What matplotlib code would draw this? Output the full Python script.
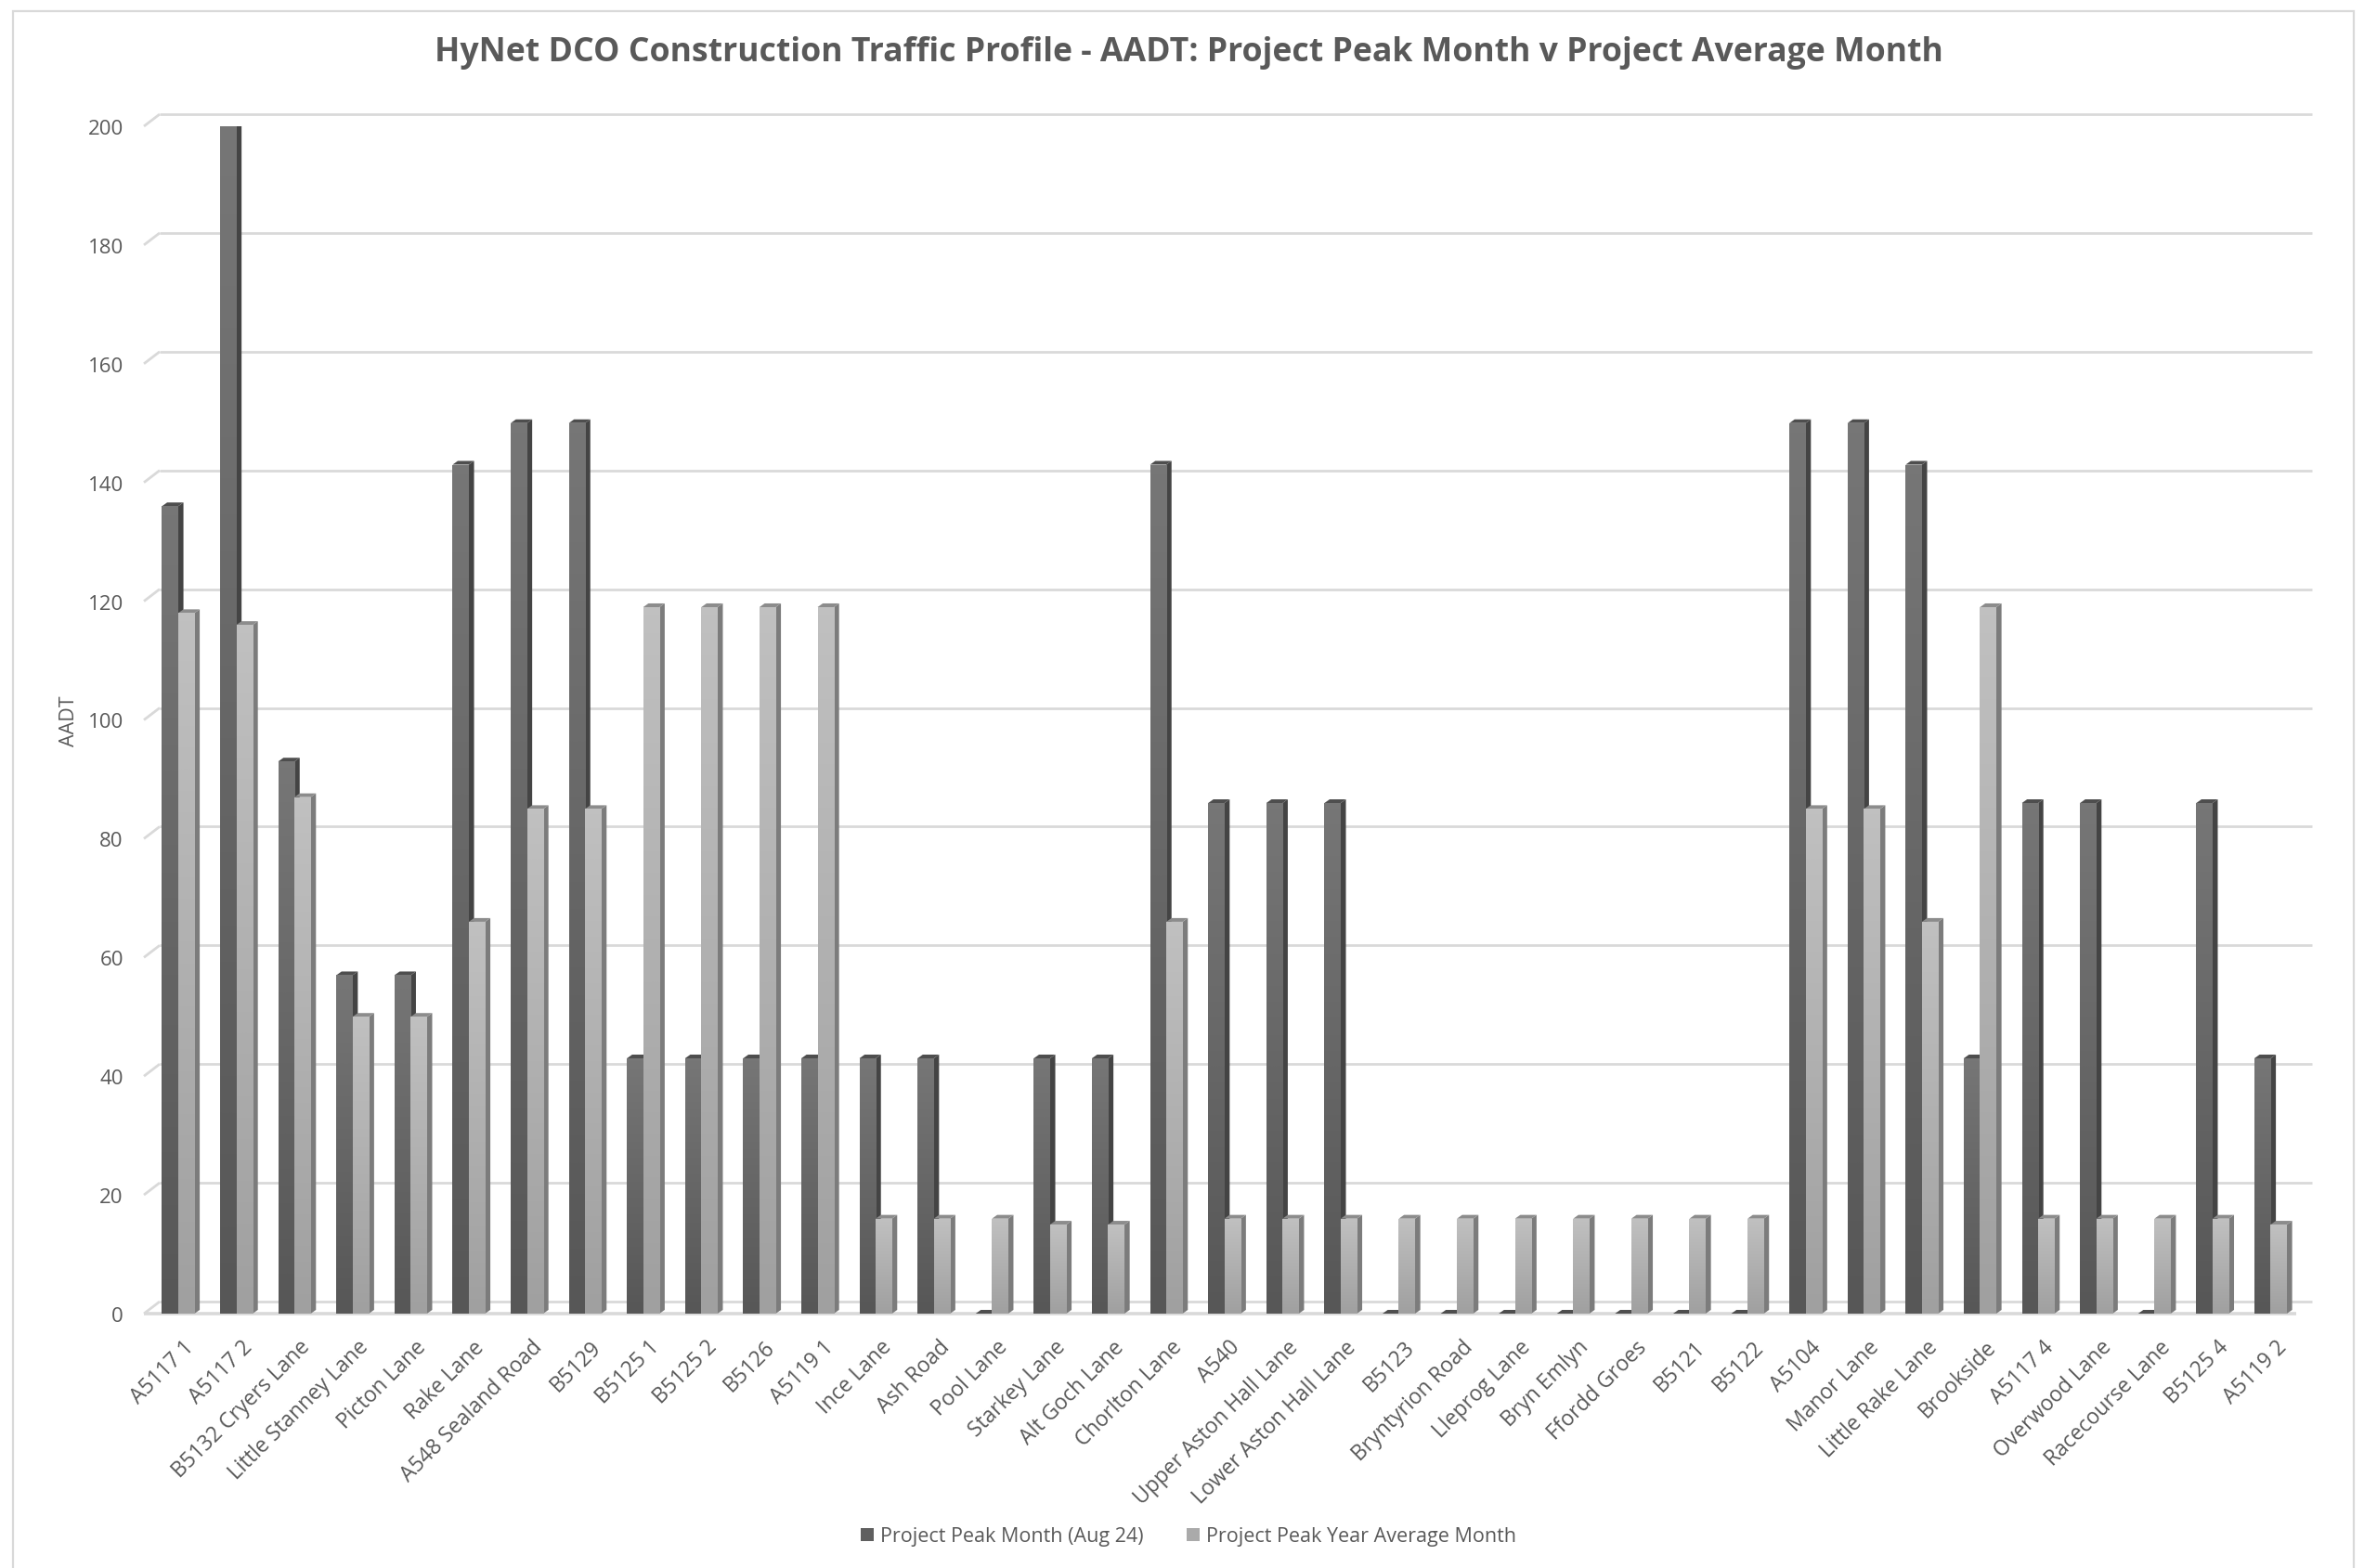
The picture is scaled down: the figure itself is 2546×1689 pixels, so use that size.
import numpy as np
import matplotlib
matplotlib.use("Agg")
import matplotlib.pyplot as plt
from matplotlib.patches import Rectangle, Polygon, Patch
from matplotlib.colors import LinearSegmentedColormap

plt.rcParams["font.family"] = ["Open Sans", "DejaVu Sans"]

# data
roads = ["A5117 1", "A5117 2", "B5132 Cryers Lane", "Little Stanney Lane", "Picton Lane",
         "Rake Lane", "A548 Sealand Road", "B5129", "B5125 1", "B5125 2", "B5126",
         "A5119 1", "Ince Lane", "Ash Road", "Pool Lane", "Starkey Lane", "Alt Goch Lane",
         "Chorlton Lane", "A540", "Upper Aston Hall Lane", "Lower Aston Hall Lane",
         "B5123", "Bryntyrion Road", "Lleprog Lane", "Bryn Emlyn", "Ffordd Groes",
         "B5121", "B5122", "A5104", "Manor Lane", "Little Rake Lane", "Brookside",
         "A5117 4", "Overwood Lane", "Racecourse Lane", "B5125 4", "A5119 2"]
peak_month = [136, 200, 93, 57, 57, 143, 150, 150, 43, 43, 43, 43, 43, 43, 0, 43, 43,
              143, 86, 86, 86, 0, 0, 0, 0, 0, 0, 0, 150, 150, 143, 43, 86, 86, 0, 86, 43]
avg_month = [118, 116, 87, 50, 50, 66, 85, 85, 119, 119, 119, 119, 16, 16, 16, 15, 15,
             66, 16, 16, 16, 16, 16, 16, 16, 16, 16, 16, 85, 85, 66, 119, 16, 16, 16, 16, 15]
series_names = ["Project Peak Month (Aug 24)", "Project Peak Year Average Month"]
yticks = list(range(0, 201, 20))

TXT = "#595959"
GRID = "#d9d9d9"
# (front top, front bottom, side, top) shades per series
SHADES = [("#767676", "#575757", "#444444", "#4e4e4e"),
          ("#c0c0c0", "#a0a0a0", "#7c7c7c", "#8c8c8c")]

W, H = 2546, 1690
fig = plt.figure(figsize=(W / 100, H / 100), dpi=100)
fig.patch.set_facecolor("white")

# axes placed so the front floor runs from px 155 to 2473, 0 at 1416, 200 at 137
ax = fig.add_axes([155 / W, (H - 1416) / H, (2473 - 155) / W, (1416 - 137) / H])
ax.set_facecolor("none")
x0, x1 = -0.59, 36.44
ax.set_xlim(x0, x1)
ax.set_ylim(0, 200)
for s in ax.spines.values():
    s.set_visible(False)

# back wall / floor offset (in data units)
wdx, wdy = 17 / 62.6, 13 / 6.395
# bar depth
bw, bdx, bdy = 0.28, 0.09, 0.63

# floor
ax.add_patch(Polygon([(x0, 0), (x1, 0), (x1 + wdx, wdy), (x0 + wdx, wdy)],
                     closed=True, facecolor="white", edgecolor="none", zorder=0))
ax.plot([x0, x1], [0, 0], color=GRID, lw=2.6, zorder=1, clip_on=False,
        solid_capstyle="butt")

# gridlines on the back wall + stubs
for v in yticks:
    ax.plot([x0 + wdx, x1 + wdx], [v + wdy, v + wdy], color=GRID, lw=2.0,
            zorder=1, clip_on=False, solid_capstyle="butt")
    ax.plot([x0, x0 + wdx], [v, v + wdy], color=GRID, lw=2.0, zorder=1,
            clip_on=False, solid_capstyle="butt")

grad = np.linspace(0, 1, 64).reshape(-1, 1)
for k, vals in enumerate([peak_month, avg_month]):
    ftop, fbot, side_c, top_c = SHADES[k]
    cmap = LinearSegmentedColormap.from_list(f"g{k}", [fbot, ftop])
    for i, h in enumerate(vals):
        left = i - bw if k == 0 else i
        right = left + bw
        z = 3 + 2 * i + k
        # side face
        ax.add_patch(Polygon([(right, 0), (right + bdx, bdy), (right + bdx, h + bdy), (right, h)],
                             closed=True, facecolor=side_c, edgecolor="none", zorder=z))
        # top face
        ax.add_patch(Polygon([(left, h), (right, h), (right + bdx, h + bdy), (left + bdx, h + bdy)],
                             closed=True, facecolor=top_c, edgecolor="none", zorder=z))
        if h > 0:
            front = Rectangle((left, 0), bw, h, facecolor="none", edgecolor="none", zorder=z)
            ax.add_patch(front)
            im = ax.imshow(grad, extent=[left, right, 0, h], origin="lower", cmap=cmap,
                           aspect="auto", zorder=z + 0.5, interpolation="bilinear")
            im.set_clip_path(front)

ax.set_xlim(x0, x1)
ax.set_ylim(0, 200)

ax.set_yticks(yticks)
ax.set_yticklabels([str(v) for v in yticks])
ax.tick_params(axis="y", length=0, pad=16, labelsize=16, labelcolor=TXT)
ax.set_xticks([i + 0.08 for i in range(len(roads))])
ax.set_xticklabels(roads, rotation=45, ha="right", rotation_mode="anchor")
ax.tick_params(axis="x", length=0, pad=17, labelsize=16.5, labelcolor=TXT)

fig.text(75 / W, 1 - 777 / H, "AADT", rotation=90, ha="center", va="center",
         fontsize=15.5, color=TXT)

fig.text(1280 / W, 1 - 57 / H,
         "HyNet DCO Construction Traffic Profile - AADT: Project Peak Month v Project Average Month",
         ha="center", va="center", fontsize=25.7, fontweight="bold", color=TXT)

handles = [Patch(facecolor="#5f5f5f", edgecolor="none"),
           Patch(facecolor="#aaaaaa", edgecolor="none")]
fig.legend(handles, series_names, loc="center", bbox_to_anchor=(1280 / W, 1 - 1656 / H),
           ncol=2, frameon=False, fontsize=15.5, labelcolor=TXT, handlelength=0.65,
           handleheight=0.65, handletextpad=0.3, columnspacing=2.2)

# chart border
fig.add_artist(Rectangle((14 / W, -0.01), (2535 - 14) / W, 1 - 13 / H + 0.01,
                         transform=fig.transFigure, facecolor="none",
                         edgecolor=GRID, lw=1.6))

fig.savefig("out.png", dpi=100, facecolor="white")
